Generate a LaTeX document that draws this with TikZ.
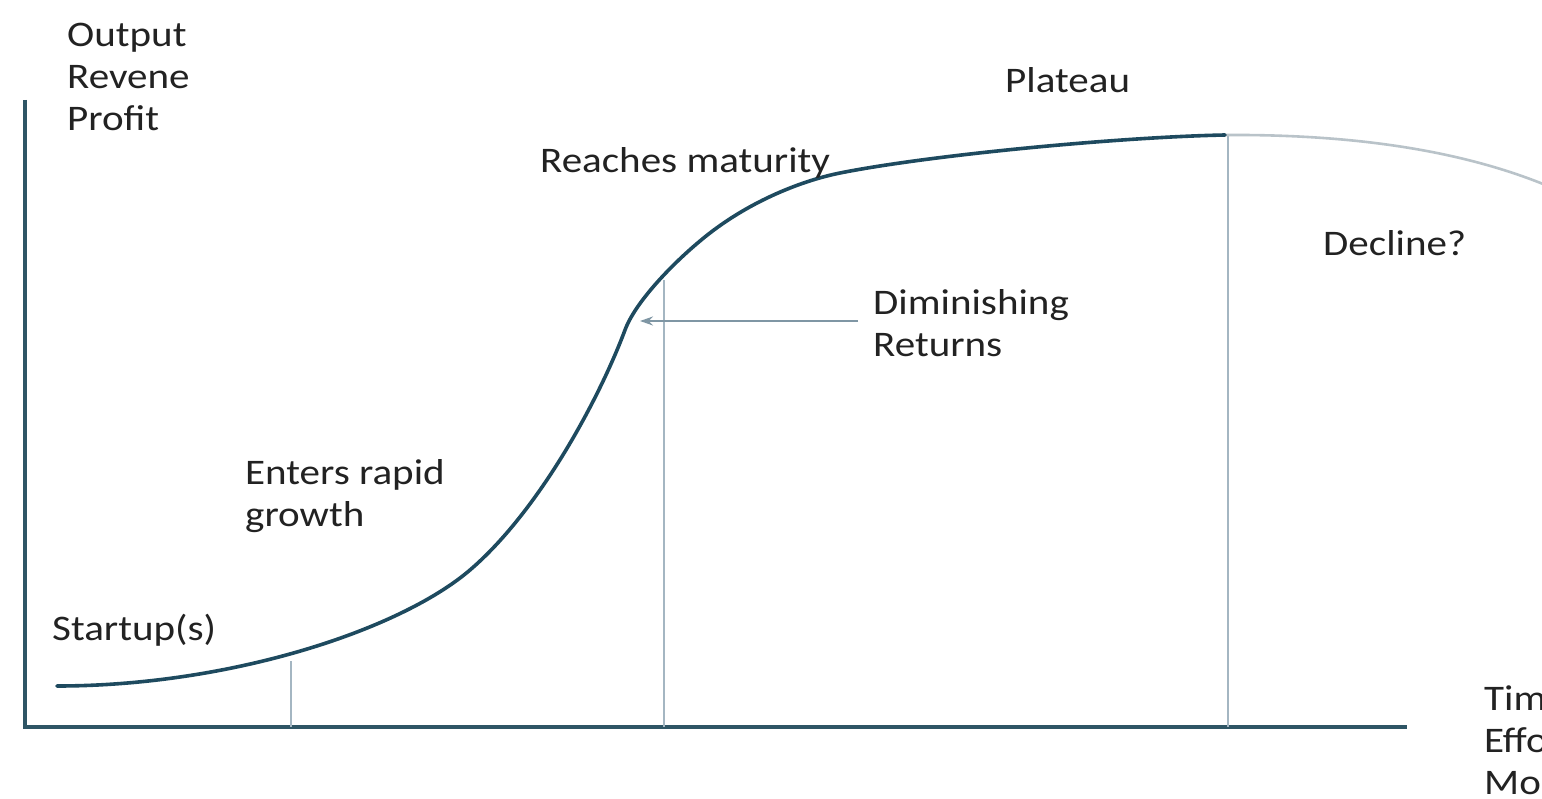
\documentclass[tikz,border=0pt]{standalone}
\usepackage{fontspec}
\setmainfont[FakeStretch=1.14]{Carlito}
\usetikzlibrary{arrows.meta}
\definecolor{axiscol}{HTML}{2E5565}
\definecolor{curvecol}{HTML}{1E4A5F}
\definecolor{guidecol}{HTML}{A4B6C2}
\definecolor{arrowcol}{HTML}{7F96A4}
\definecolor{declcol}{HTML}{B9C3C9}
\definecolor{txtcol}{HTML}{222222}
\tikzset{
  lbl/.style={anchor=west, inner sep=0pt, align=left, text=txtcol,
    font=\fontsize{36}{42}\selectfont},
  axisline/.style={draw=axiscol, line width=4pt},
  sline/.style={draw=curvecol, line width=3.6pt, line cap=round, line join=round},
  guide/.style={draw=guidecol, line width=2pt},
  declline/.style={draw=declcol, line width=2.6pt},
  pointer/.style={draw=arrowcol, line width=2pt, -{Stealth[length=13pt,width=9pt,open]}}
}
\begin{document}
\begin{tikzpicture}[x=1pt,y=-1pt]
\useasboundingbox[fill=white] (0,0) rectangle (1542,799);
% axes
\coordinate (ytop) at (25,100);
\coordinate (orig) at (25,727);
\coordinate (xend) at (1407,727);
\draw[axisline] (ytop) -- (orig) -- (xend);
% guide lines
\coordinate (g1t) at (291,661);
\coordinate (g1b) at (291,727);
\coordinate (g2t) at (664,280);
\coordinate (g2b) at (664,727);
\coordinate (g3t) at (1228,135);
\coordinate (g3b) at (1228,727);
\draw[guide] (g1t) -- (g1b);
\draw[guide] (g2t) -- (g2b);
\draw[guide] (g3t) -- (g3b);
% decline
\coordinate (peak) at (1225,135);
\coordinate (dend) at (1548,186);
\draw[declline] (peak) .. controls (1380,134) and (1480,158) .. (dend);
% S-curve
\coordinate (s0) at (57,686);
\coordinate (s1) at (470,570);
\coordinate (s2) at (625,330);
\coordinate (s3) at (700,241);
\coordinate (s4) at (840,173);
\draw[sline] (s0) .. controls (230,686) and (400,630) .. (s1)
  .. controls (540,510) and (600,397) .. (s2)
  .. controls (635,303) and (670,266) .. (s3)
  .. controls (745,203) and (800,181) .. (s4)
  .. controls (930,155) and (1120,137) .. (peak);
% labels
\node[lbl] (yl) at (67,77) {Output\\Revene\\Profit};
\node[lbl] (plat) at (1005,80) {Plateau};
\node[lbl] (mat) at (540,163) {Reaches maturity};
\node[lbl] (decl) at (1323,243) {Decline?};
\node[lbl] (dim) at (873,323) {Diminishing\\Returns};
\node[lbl] (rapid) at (245,496) {Enters rapid\\growth};
\node[lbl] (start) at (52,630) {Startup(s)};
\coordinate (dimtip) at (640,321);
\draw[pointer] (dim.west |- 0,321) ++(-15,0) coordinate (dimtail) -- (dimtip);
\begin{scope}
\clip (0,0) rectangle (1542,799);
\node[lbl] (xl) at (1484,743) {Time\\Effort\\Money};
\end{scope}
\end{tikzpicture}
\end{document}
